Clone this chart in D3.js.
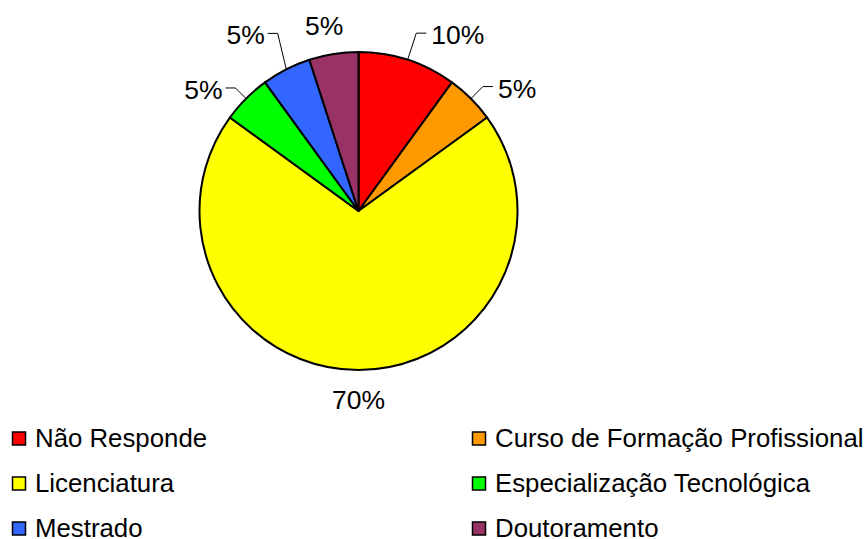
<!DOCTYPE html>
<html>
<head>
<meta charset="utf-8">
<script src="https://cdn.jsdelivr.net/npm/d3@7"></script>
<style>
  body { margin: 0; background: #fff; }
  text { font-family: "Liberation Sans", Arial, sans-serif; fill: #000; }
</style>
</head>
<body>
<svg id="chart" width="868" height="539"></svg>
<script>
// ----------------------------
// Data
// ----------------------------
const categories = ["Não Responde", "Curso de Formação Profissional", "Licenciatura",
                    "Especialização Tecnológica", "Mestrado", "Doutoramento"];
const values = [10, 5, 70, 5, 5, 5];
const labels = ["10%", "5%", "70%", "5%", "5%", "5%"];
const colors = ["#FF0000", "#FF9900", "#FFFF00", "#00FF00", "#3366FF", "#993366"];

// label placement (layout only)
const labelLayout = [
  { r: 187, dy: 0, leader: true },
  { r: 176, dy: 0, leader: true },
  { r: 189, dy: 0, leader: false },
  { r: 174, dy: 0, leader: true },
  { r: 178, dy: -19, leader: true },
  { r: 187, dy: 0, dx: -5, leader: false }
];

// ----------------------------
// Pie
// ----------------------------
const svg = d3.select("#chart");
const cx = 358.5, cy = 211, radius = 159;
const labelSize = 26.5;
const legendSize = 25.8;

const g = svg.append("g").attr("transform", `translate(${cx},${cy})`);

const pie = d3.pie().sort(null).value(d => d)(values);
const arc = d3.arc().innerRadius(0).outerRadius(radius);

g.selectAll("path.slice")
  .data(pie)
  .join("path")
  .attr("class", "slice")
  .attr("d", arc)
  .attr("fill", (d, i) => colors[i])
  .attr("stroke", "#000")
  .attr("stroke-width", 2)
  .attr("stroke-linejoin", "round");

const polar = (a, r) => [r * Math.sin(a), -r * Math.cos(a)];

pie.forEach((d, i) => {
  const lay = labelLayout[i];
  const mid = (d.startAngle + d.endAngle) / 2;
  let [ex, ey] = polar(mid, lay.r);
  ey += lay.dy || 0;
  ex += lay.dx || 0;
  const right = Math.sin(mid) >= 0;

  if (lay.leader) {
    const [sx, sy] = polar(mid, radius);
    const hx = ex + (right ? 10 : -10);
    g.append("polyline")
      .attr("points", [[sx, sy], [ex, ey], [hx, ey]].map(p => p.join(",")).join(" "))
      .attr("fill", "none")
      .attr("stroke", "#000")
      .attr("stroke-width", 1);
    g.append("text")
      .attr("x", hx + (right ? 5 : -3))
      .attr("y", ey + 2)
      .attr("dominant-baseline", "central")
      .attr("text-anchor", right ? "start" : "end")
      .attr("font-size", labelSize)
      .text(labels[i]);
  } else {
    g.append("text")
      .attr("x", ex)
      .attr("y", ey)
      .attr("dominant-baseline", "central")
      .attr("text-anchor", "middle")
      .attr("font-size", labelSize)
      .text(labels[i]);
  }
});

// ----------------------------
// Legend
// ----------------------------
const colX = d3.scaleOrdinal().domain([0, 1]).range([12, 472]);
const rowY = d3.scaleLinear().domain([0, 2]).range([439, 529]);

const legend = svg.append("g");
categories.forEach((c, i) => {
  const x = colX(i % 2), y = rowY(Math.floor(i / 2));
  legend.append("rect")
    .attr("x", x + 0.5).attr("y", y - 7)
    .attr("width", 13).attr("height", 13)
    .attr("fill", colors[i])
    .attr("stroke", "#000")
    .attr("stroke-width", 1.5);
  legend.append("text")
    .attr("x", x + 23)
    .attr("y", y - 1.5)
    .attr("dominant-baseline", "central")
    .attr("font-size", legendSize)
    .text(c);
});
</script>
</body>
</html>
